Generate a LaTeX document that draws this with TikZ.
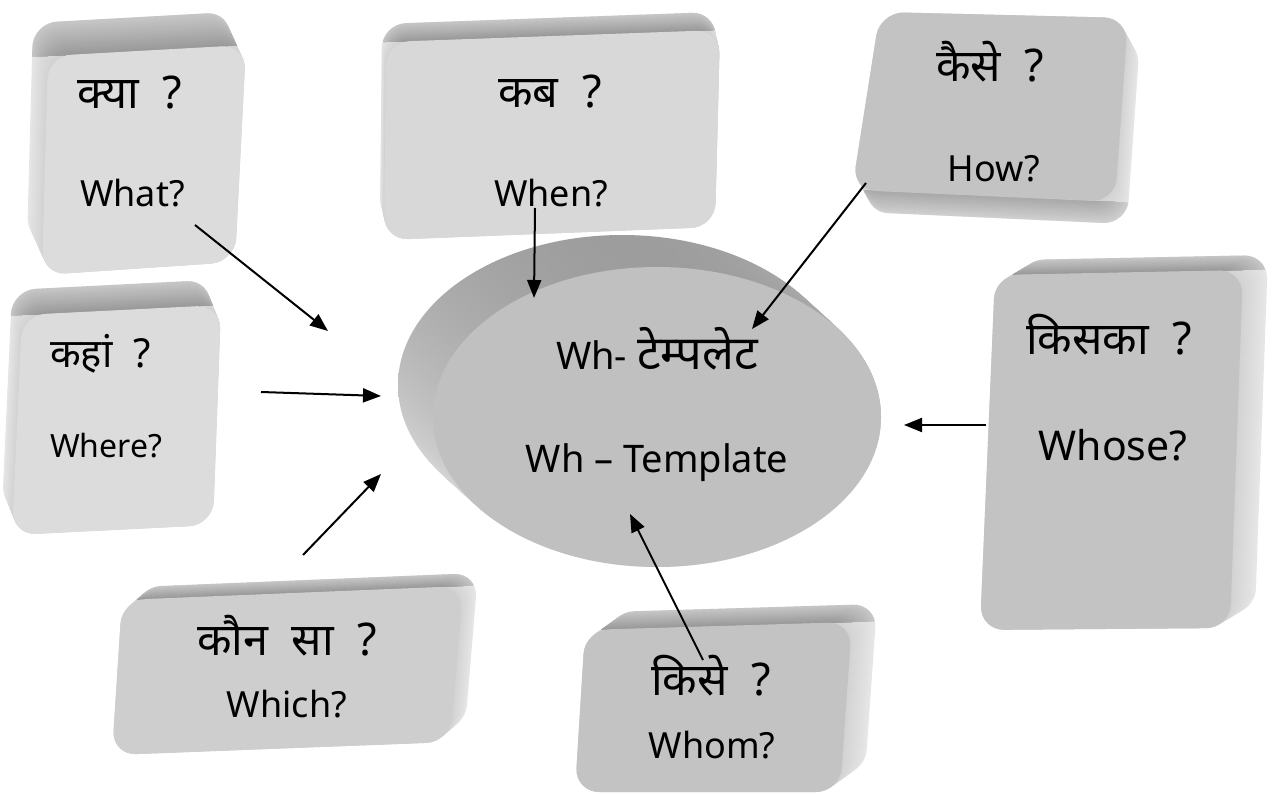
\documentclass[tikz,border=0pt]{standalone}
\usepackage{fontspec}
\setmainfont{Noto Sans}
\newfontfamily\hindi[Script=Devanagari]{Noto Sans}
\usetikzlibrary{arrows.meta,calc}
\definecolor{bandDark}{HTML}{989898}
\definecolor{sideCol}{HTML}{D2D2D2}
\definecolor{bandLight}{HTML}{E6E6E6}
\definecolor{faceA}{HTML}{DCDCDC}
\definecolor{faceB}{HTML}{D8D8D8}
\definecolor{faceC}{HTML}{C3C3C3}
\definecolor{faceD}{HTML}{CECECE}
\definecolor{faceE}{HTML}{C0C0C0}
% #1 name, #2-#5 corners (#2--#3 = edge whose band is dark), #6 dx, #7 dy, #8 face colour, #9 dark band colour
\newcommand\wbox[9]{%
  \foreach \k in {0,...,24}{%
    \pgfmathsetmacro\f{1-\k/24}
    \pgfmathtruncatemacro\p{55+45*\k/24}
    \path[fill=sideCol!\p!white,shift={({\f*#6},{\f*#7})},rounded corners=24]
      #2 -- #3 -- #4 -- #5 -- cycle;
  }
  \coordinate (#1-a) at ($#2!-0.5!#3$);
  \coordinate (#1-b) at ($#3!-0.5!#2$);
  \coordinate (#1-c) at ($(#1-b)!-0.5!#4$);
  \coordinate (#1-d) at ($(#1-a)!-0.5!#5$);
  \begin{scope}
    \clip (#1-a) -- (#1-b) -- (#1-c) -- (#1-d) -- cycle;
    \foreach \k in {0,...,24}{%
      \pgfmathsetmacro\f{1-\k/24}
      \pgfmathtruncatemacro\p{55+45*\k/24}
      \path[fill=#9!\p!white,shift={({\f*#6},{\f*#7})},rounded corners=24]
        #2 -- #3 -- #4 -- #5 -- cycle;
    }
  \end{scope}
  \path[fill=#8,rounded corners=24] #2 -- #3 -- #4 -- #5 -- cycle;
  \coordinate (#1) at ($#2!0.5!#4$);
}
\tikzset{
  lbl/.style={anchor=base,inner sep=0pt,font=\fontsize{36}{40}\selectfont},
  hlbl/.style={anchor=base,inner sep=0pt,font=\hindi\fontsize{45}{50}\selectfont},
  arr/.style={line width=2pt,-{Triangle[length=18pt,width=14pt]}}
}
\begin{document}
\begin{tikzpicture}[x=1pt,y=-1pt]
\useasboundingbox (0,0) rectangle (1272,794);
\fill[white] (0,0) rectangle (1272,794);
% boxes
\wbox{bwhat}{(48,56)}{(246,45)}{(235,262)}{(42,275)}{-15}{-33}{faceA}{bandDark}
\wbox{bwhen}{(386,42)}{(720,30)}{(715,227)}{(384,240)}{-4}{-18}{faceB}{bandDark}
\wbox{bhow}{(1115,202)}{(852,190)}{(880,12)}{(1128,18)}{12}{22}{faceC}{bandDark!85!white}
\wbox{bwhere}{(22,315)}{(221,305)}{(213,525)}{(12,535)}{-10}{-25}{faceA}{bandDark}
\wbox{bwhich}{(122,600)}{(463,586)}{(450,742)}{(112,755)}{15}{-13}{faceD}{bandDark}
\wbox{bwhom}{(585,630)}{(852,622)}{(840,792)}{(575,792)}{25}{-18}{faceC}{bandDark}
\wbox{bwhose}{(995,275)}{(1243,270)}{(1230,628)}{(980,630)}{25}{-15}{faceC}{bandDark}
% central disc
\foreach \k in {0,...,30}{%
  \path[shade,top color=bandDark!95!white,bottom color=bandLight,
        shift={({(1-\k/30)*(-35)},{(1-\k/30)*(-32)})}]
    (657,417) ellipse [x radius=224, y radius=150];
}
\path[fill=faceE] (657,417) ellipse [x radius=224, y radius=150];
\coordinate (disc) at (657,417);
% labels
\node[hlbl,anchor=base west] (hwhat) at (77,109) {क्या~ ?};
\node[lbl,anchor=base west] (ewhat) at (80,207) {What?};
\node[hlbl] (hwhen) at (550,108) {कब~ ?};
\node[lbl] (ewhen) at (551,207) {When?};
\node[hlbl] (hhow) at (990,82) {कैसे~ ?};
\node[lbl] (ehow) at (994,182) {How?};
\node[hlbl,anchor=base west,font=\hindi\fontsize{40}{44}\selectfont] (hwhere) at (50,367) {कहां~ ?};
\node[lbl,anchor=base west,font=\fontsize{32}{36}\selectfont] (ewhere) at (50,457) {Where?};
\node[lbl,font=\fontsize{38}{42}\selectfont] (hdisc) at (657,370) {Wh- {\hindi\fontsize{47}{50}\selectfont टेम्पलेट}};
\node[lbl,font=\fontsize{38}{42}\selectfont] (edisc) at (657,472) {Wh – Template};
\node[hlbl] (hwhose) at (1109,355) {किसका~ ?};
\node[lbl,font=\fontsize{41}{45}\selectfont] (ewhose) at (1113,460) {Whose?};
\node[hlbl] (hwhich) at (287,655) {कौन~ सा~ ?};
\node[lbl] (ewhich) at (287,717) {Which?};
\node[hlbl] (hwhom) at (711,695) {किसे~ ?};
\node[lbl] (ewhom) at (712,758) {Whom?};
% connector end points
\coordinate (s1) at (195,225); \coordinate (t1) at (328,331);
\coordinate (s2) at (535,208); \coordinate (t2) at (534,298);
\coordinate (s3) at (866,183); \coordinate (t3) at (752,329);
\coordinate (s4) at (261,392); \coordinate (t4) at (381,396);
\coordinate (s5) at (303,555); \coordinate (t5) at (381,474);
\coordinate (s6) at (703,660); \coordinate (t6) at (630,514);
\coordinate (s7) at (986,425); \coordinate (t7) at (904,425);
\draw[arr] (s1) -- (t1);
\draw[arr] (s2) -- (t2);
\draw[arr] (s3) -- (t3);
\draw[arr] (s4) -- (t4);
\draw[arr] (s5) -- (t5);
\draw[arr] (s6) -- (t6);
\draw[arr] (s7) -- (t7);
\end{tikzpicture}
\end{document}
